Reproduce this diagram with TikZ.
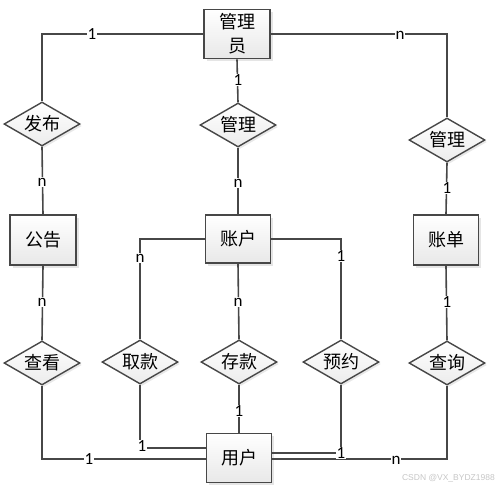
\documentclass[tikz,border=0pt]{standalone}
\usepackage{fontspec}
\newfontfamily\cjk{Noto Sans CJK SC}
\newfontfamily\labfont{Carlito}
\usetikzlibrary{shapes.geometric,shadows}
\definecolor{ln}{HTML}{474747}
\tikzset{
  x=1pt,y=-1pt,
  ent/.style={draw=ln,line width=1.6pt,rectangle,minimum width=65pt,minimum height=49pt,inner sep=0pt,
    top color=white,bottom color=gray!18,font=\cjk\fontsize{18}{24}\selectfont,align=center,
    drop shadow={shadow xshift=2.5pt,shadow yshift=-2.5pt,fill=gray!40,opacity=0.5}},
  rel/.style={draw=ln,line width=1.4pt,diamond,aspect=1.73,minimum width=76pt,minimum height=44pt,inner sep=0pt,
    top color=white,bottom color=gray!15,font=\cjk\fontsize{18}{22}\selectfont,
    drop shadow={shadow xshift=2pt,shadow yshift=-2pt,fill=gray!35,opacity=0.5}},
  con/.style={draw=ln,line width=1.6pt},
  lab/.style={fill=white,inner sep=1pt,font=\labfont\fontsize{17}{17}\selectfont},
}
\begin{document}
\begin{tikzpicture}
\useasboundingbox (0,0) rectangle (498,491);
% connectors first
\coordinate (gly0) at (237,34);
\coordinate (ccx) at (447,459);
\coordinate (cck) at (42,459);
% entities
\node[ent,minimum width=66pt] (gly) at (237,34) {管理\\员};
\node[ent,minimum width=66pt,minimum height=50pt] (gg) at (43,240) {公告};
\node[ent,minimum height=48pt] (zh) at (238,239) {账户};
\node[ent,minimum height=50pt] (zd) at (446,240) {账单};
\node[ent] (u) at (239,458) {用户};
% relations
\node[rel] (fb) at (42,124) {发布};
\node[rel] (gl2) at (238,125) {管理};
\node[rel] (gl3) at (447,140) {管理};
\node[rel] (ck) at (42,363) {查看};
\node[rel] (qk) at (140,362) {取款};
\node[rel] (ckk) at (239,362) {存款};
\node[rel] (yy) at (341,362) {预约};
\node[rel] (cx) at (447,363) {查询};
\coordinate (uq) at ([yshift=10pt]u.west);
\coordinate (uy) at ([yshift=5pt]u.east);
\coordinate (ul) at ([yshift=-1pt]u.west);
\coordinate (ur) at ([yshift=-1pt]u.east);
\begin{scope}[on background layer/.try]
\end{scope}
% lines
\draw[con] (gly.west) -| (fb.north);
\draw[con] (gly.east) -| (gl3.north);
\draw[con] (gly.south) -- (gl2.north);
\draw[con] (gl2.south) -- (zh.north);
\draw[con] (fb.south) -- (gg.north);
\draw[con] (gg.south) -- (ck.north);
\draw[con] (gl3.south) -- (zd.north);
\draw[con] (zd.south) -- (cx.north);
\draw[con] (zh.west) -| (qk.north);
\draw[con] (zh.east) -| (yy.north);
\draw[con] (zh.south) -- (ckk.north);
\draw[con] (ckk.south) -- (u.north);
\draw[con] (ck.south) |- (ul);
\draw[con] (qk.south) |- (uq);
\draw[con] (yy.south) |- (uy);
\draw[con] (cx.south) |- (ur);
% labels
\node[lab] (l1) at (92,34) {1};
\node[lab] (l2) at (400,35) {n};
\node[lab] (l3) at (238,80) {1};
\node[lab] (l4) at (238,183) {n};
\node[lab] (l5) at (42,182) {n};
\node[lab] (l6) at (42,302) {n};
\node[lab] (l7) at (447,188) {1};
\node[lab] (l8) at (447,302) {1};
\node[lab] (l9) at (140,258) {n};
\node[lab] (l10) at (238,302) {n};
\node[lab] (l11) at (341,256) {1};
\node[lab] (l12) at (239,411) {1};
\node[lab] (l13) at (142,446) {1};
\node[lab] (l14) at (341,453) {1};
\node[lab] (l15) at (89,459) {1};
\node[lab] (l16) at (396,460) {n};
\node[font=\fontspec{Liberation Sans}\fontsize{8.5}{9}\selectfont,text=gray!45,anchor=east,inner sep=0pt] (wm) at (495,478) {CSDN @VX\_BYDZ1988};
\end{tikzpicture}
\end{document}
